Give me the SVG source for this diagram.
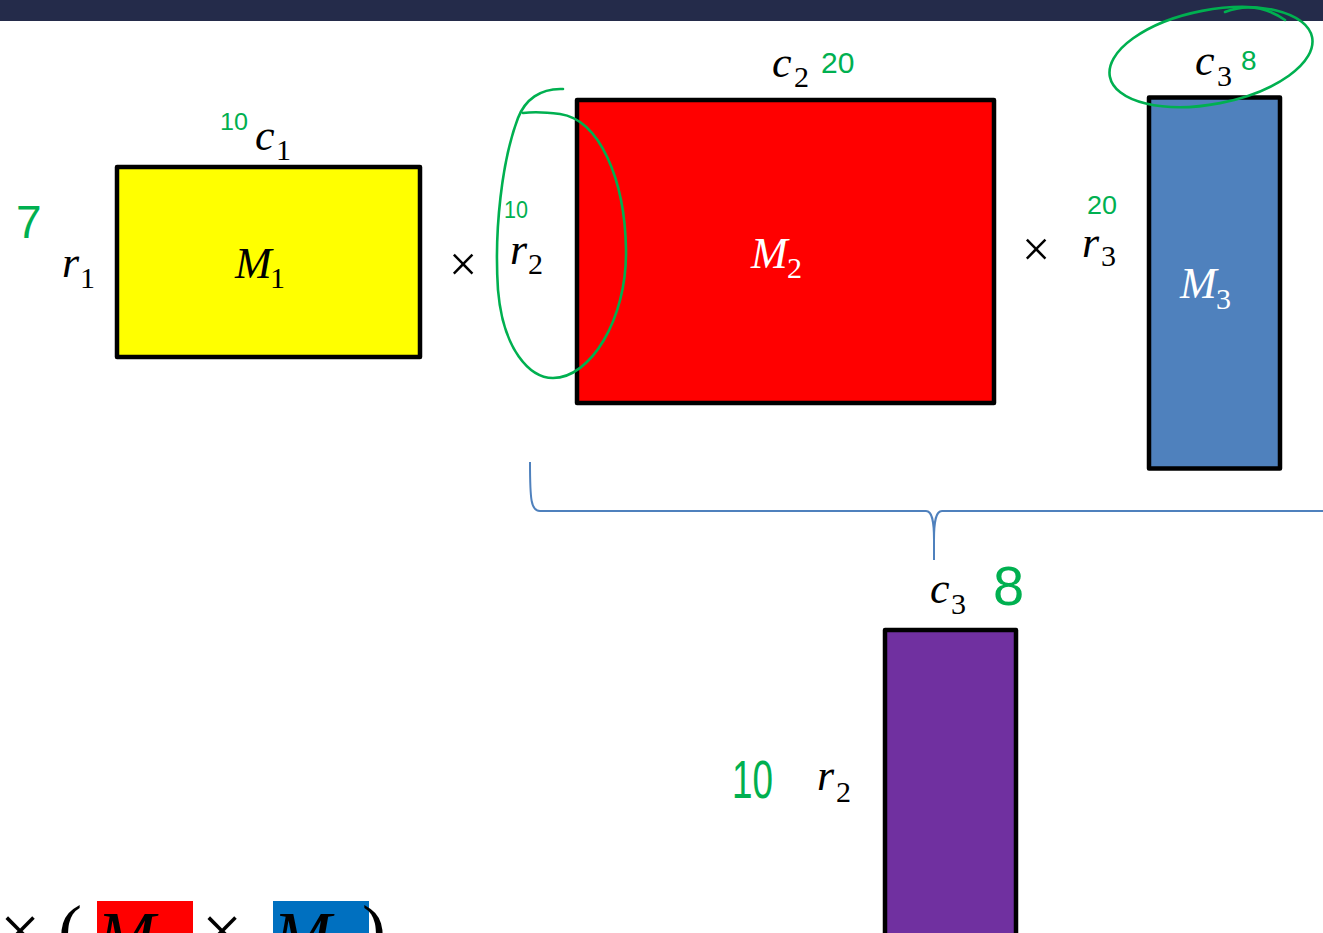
<svg xmlns="http://www.w3.org/2000/svg" width="1323" height="933" viewBox="0 0 1323 933">
<style>
.box{stroke:#000;stroke-width:4.5;stroke-linejoin:round}
.m{font-family:"Liberation Serif",serif;font-style:italic;font-size:44px}
.s{font-family:"Liberation Serif",serif;font-size:30px}
.op{font-family:"Liberation Serif",serif;font-size:50px;text-anchor:middle}
.w{fill:#fff}
.g{fill:#00B050;font-family:"Liberation Sans",sans-serif}
.ink{fill:none;stroke:#00B050;stroke-width:2.6;stroke-linecap:round}
.big{font-family:"Liberation Serif",serif;font-style:italic;font-size:70px}
.bigop{font-family:"Liberation Serif",serif;font-size:72px}
</style>
<rect x="0" y="0" width="1323" height="933" fill="#fff"/>
<rect x="0" y="0" width="1323" height="21" fill="#242B4A"/>

<g id="m1">
<rect class="box" x="117" y="167" width="303" height="190" fill="#FFFF00"/>
<text class="m" x="235" y="278">M</text><text class="s" x="270" y="288">1</text>
<text class="m" x="255" y="150">c</text><text class="s" x="276" y="160">1</text>
<text class="m" x="62" y="277">r</text><text class="s" x="80" y="288">1</text>
</g>
<text class="op" x="463" y="281">×</text>
<g id="m2">
<rect class="box" x="577" y="100" width="417" height="303" fill="#FF0000"/>
<text class="m w" x="751" y="268">M</text><text class="s w" x="787" y="278">2</text>
<text class="m" x="772" y="77">c</text><text class="s" x="794" y="87">2</text>
<text class="m" x="510" y="264">r</text><text class="s" x="528" y="274">2</text>
</g>
<text class="op" x="1036" y="266">×</text>
<g id="m3">
<rect class="box" x="1149" y="97.5" width="131" height="371" fill="#4F81BD"/>
<text class="m w" x="1180" y="298">M</text><text class="s w" x="1216" y="309">3</text>
<text class="m" x="1082" y="257">r</text><text class="s" x="1101" y="266">3</text>
<text class="m" x="1195" y="75">c</text><text class="s" x="1217" y="86">3</text>
</g>
<g id="result">
<rect class="box" x="885" y="630" width="131" height="330" fill="#7030A0"/>
<text class="m" x="930" y="603">c</text><text class="s" x="951" y="614">3</text>
<text class="m" x="817" y="790">r</text><text class="s" x="836" y="802">2</text>
</g>

<g id="connectors">
<path d="M530,462 C530,500 531,511 540,511 L926,511 C932,511 934,520 934,540 L934,560 M934,540 C934,520 936,511 942,511 L1323,511" fill="none" stroke="#4F81BD" stroke-width="2"/>
</g>

<g id="formula">
<rect x="97" y="901" width="96" height="40" fill="#FF0000"/>
<rect x="273" y="901" width="96" height="40" fill="#0070C0"/>
<text class="bigop" x="20" y="955" text-anchor="middle">×</text>
<text class="bigop" x="58" y="955">(</text>
<text class="big" x="97" y="960">M</text>
<text class="bigop" x="222" y="955" text-anchor="middle">×</text>
<text class="big" x="273" y="960">M</text>
<text class="bigop" x="362" y="955">)</text>
</g>

<g id="annotations">
<path class="ink" d="M563,89 C540,88 525,100 518,118 C502,160 494,230 498,290 C503,350 530,378 553,378 C590,378 627,320 626,250 C625,180 600,120 560,114 C545,112 530,112 523,113"/>
<ellipse class="ink" cx="1211" cy="57" rx="103" ry="47" transform="rotate(-11 1211 57)"/>
<path class="ink" d="M1225,12 C1245,4 1265,6 1285,20"/>
<text class="g" x="16" y="238" font-size="46">7</text>
<text class="g" x="220" y="130" font-size="24" textLength="28" lengthAdjust="spacingAndGlyphs">10</text>
<text class="g" x="504" y="218" font-size="24" textLength="24" lengthAdjust="spacingAndGlyphs">10</text>
<text class="g" x="821" y="73" font-size="30">20</text>
<text class="g" x="1087" y="214" font-size="26" textLength="30" lengthAdjust="spacingAndGlyphs">20</text>
<text class="g" x="1241" y="70" font-size="28">8</text>
<text class="g" x="993" y="605" font-size="56">8</text>
<text class="g" x="732" y="798" font-size="54" textLength="41" lengthAdjust="spacingAndGlyphs">10</text>
</g>
</svg>
